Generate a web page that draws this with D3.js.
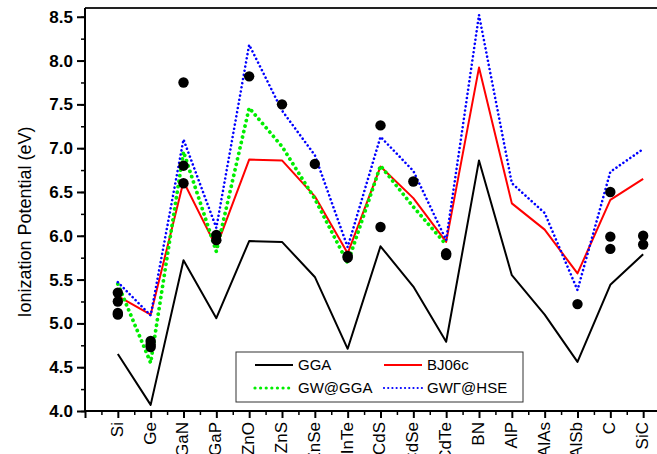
<!DOCTYPE html>
<html>
<head>
<meta charset="utf-8">
<script src="https://cdn.jsdelivr.net/npm/d3@7"></script>
<style>
  body { margin: 0; background: #fff; }
  svg { display: block; font-family: "Liberation Sans", Arial, sans-serif; }
</style>
</head>
<body>
<svg id="vis" width="657" height="454"></svg>
<script>
const materials = ['Si', 'Ge', 'GaN', 'GaP', 'ZnO', 'ZnS', 'ZnSe', 'InTe', 'CdS', 'CdSe', 'CdTe', 'BN', 'AlP', 'AlAs', 'AlSb', 'C', 'SiC']

const gga = [4.65, 4.07, 5.72, 5.06, 5.94, 5.93, 5.53, 4.71, 5.88, 5.42, 4.79, 6.86, 5.55, 5.10, 4.56, 5.44, 5.79]
const bj06c = [5.31, 5.10, 6.62, 5.87, 6.87, 6.86, 6.45, 5.80, 6.79, 6.43, 5.93, 7.92, 6.37, 6.07, 5.57, 6.41, 6.65]
// GW@GGA only goes up to CdTe
const gwGga = [5.45, 4.55, 6.96, 5.82, 7.46, 7.02, 6.42, 5.69, 6.80, 6.33, 5.90]
const gwgHse = [5.47, 5.09, 7.10, 6.09, 8.18, 7.43, 6.92, 5.87, 7.13, 6.74, 5.95, 8.52, 6.60, 6.26, 5.38, 6.73, 6.99]

// experimental values, [material, IP]
const expt = [
  ['Si', 5.35], ['Si', 5.25], ['Si', 5.12], ['Si', 5.10],
  ['Ge', 4.80], ['Ge', 4.76], ['Ge', 4.73],
  ['GaN', 7.75], ['GaN', 6.80], ['GaN', 6.60],
  ['GaP', 6.01], ['GaP', 5.95],
  ['ZnO', 7.82], ['ZnS', 7.50], ['ZnSe', 6.82],
  ['InTe', 5.77], ['InTe', 5.75],
  ['CdS', 7.26], ['CdS', 6.10], ['CdSe', 6.62],
  ['CdTe', 5.80], ['CdTe', 5.78],
  ['AlSb', 5.22],
  ['C', 6.50], ['C', 5.99], ['C', 5.85],
  ['SiC', 6.00], ['SiC', 5.90]
]

const yTicks = [4.0, 4.5, 5.0, 5.5, 6.0, 6.5, 7.0, 7.5, 8.0, 8.5]

const series = [
  { name: 'GGA', values: gga, color: '#000', width: 2, dash: null },
  { name: 'BJ06c', values: bj06c, color: '#f00', width: 2, dash: null },
  { name: 'GW@GGA', values: gwGga, color: '#0e0', width: 3.8, dash: '0.01 5.6' },
  { name: 'GWΓ@HSE', values: gwgHse, color: '#00f', width: 2.6, dash: '0.01 4.2' }
]

const svg = d3.select('#vis')
const plotLeft = 85, plotTop = 8, plotBottom = 411

const x = d3.scaleLinear().domain([-1, 17]).range([plotLeft, 676])
const y = d3.scaleLinear().domain([4, 8.6]).range([plotBottom, plotTop])

// frame
svg.append('line')
  .attr('x1', plotLeft).attr('x2', 657).attr('y1', plotTop).attr('y2', plotTop)
  .attr('stroke', '#222').attr('stroke-width', 2)

// y axis
const yMinor = d3.range(4, 8.6, 0.25)
svg.append('g')
  .attr('transform', `translate(${plotLeft},0)`)
  .call(d3.axisLeft(y).tickValues(yMinor).tickSize(4).tickFormat(''))
  .call(g => g.select('.domain').remove())
  .call(g => g.selectAll('line').attr('stroke-width', 1.5))
svg.append('g')
  .attr('transform', `translate(${plotLeft},0)`)
  .call(d3.axisLeft(y).tickValues(yTicks).tickSize(8).tickPadding(4).tickFormat(d3.format('.1f')))
  .call(g => g.select('.domain').attr('stroke-width', 2).attr('d', `M0,${plotBottom}V${plotTop}`))
  .call(g => g.selectAll('line').attr('stroke-width', 2))
  .call(g => g.selectAll('text')
    .attr('font-size', 17)
    .attr('font-weight', 'bold')
    .attr('fill', '#000')
    .attr('font-family', '"Liberation Sans", Arial, sans-serif'))

// x axis
svg.append('g')
  .attr('transform', `translate(0,${plotBottom})`)
  .call(d3.axisBottom(x).tickValues(d3.range(-0.5, 17, 1)).tickSize(4).tickFormat(''))
  .call(g => g.select('.domain').remove())
  .call(g => g.selectAll('line').attr('stroke-width', 1.5))
svg.append('g')
  .attr('transform', `translate(0,${plotBottom})`)
  .call(d3.axisBottom(x).tickValues(d3.range(-1, 17)).tickSize(7)
    .tickFormat(i => i >= 0 ? materials[i] : ''))
  .call(g => g.select('.domain').attr('stroke-width', 2).attr('d', `M${plotLeft},0H676`))
  .call(g => g.selectAll('line').attr('stroke-width', 2))
  .call(g => g.selectAll('text')
    .attr('font-size', 17)
    .attr('fill', '#000')
    .attr('font-family', '"Liberation Sans", Arial, sans-serif')
    .attr('text-anchor', 'end')
    .attr('dy', null)
    .attr('transform', 'rotate(-90)')
    .attr('x', -11)
    .attr('y', 0)
    .attr('dominant-baseline', 'middle'))

// y label
svg.append('text')
  .attr('transform', 'translate(31,222) rotate(-90)')
  .attr('text-anchor', 'middle')
  .attr('font-size', 18)
  .text('Ionization Potential (eV)')

// lines
const line = d3.line()
  .x((d, i) => x(i))
  .y(d => y(d))

svg.append('g')
  .selectAll('path')
  .data(series)
  .enter()
  .append('path')
  .attr('d', s => line(s.values))
  .attr('fill', 'none')
  .attr('stroke', s => s.color)
  .attr('stroke-width', s => s.width)
  .attr('stroke-dasharray', s => s.dash)
  .attr('stroke-linecap', s => s.dash ? 'round' : 'butt')
  .attr('stroke-linejoin', 'round')

// experiment dots
svg.append('g')
  .selectAll('circle')
  .data(expt)
  .enter()
  .append('circle')
  .attr('cx', d => x(materials.indexOf(d[0])))
  .attr('cy', d => y(d[1]))
  .attr('r', 5.2)
  .attr('fill', '#000')

// legend
const legend = svg.append('g').attr('transform', 'translate(236,352)')
legend.append('rect')
  .attr('width', 287).attr('height', 50)
  .attr('fill', '#fff').attr('stroke', '#333').attr('stroke-width', 1)
const cols = [19, 148]
const rows = [13, 36]
const items = legend.selectAll('g.item')
  .data(series)
  .enter()
  .append('g')
  .attr('class', 'item')
  .attr('transform', (s, i) => `translate(${cols[i % 2]},${rows[Math.floor(i / 2)]})`)
items.append('line')
  .attr('x1', 0).attr('x2', 38)
  .attr('stroke', s => s.color)
  .attr('stroke-width', s => s.dash ? s.width * 0.85 : s.width)
  .attr('stroke-dasharray', s => s.dash)
  .attr('stroke-linecap', s => s.dash ? 'round' : 'butt')
items.append('text')
  .attr('x', 43)
  .attr('dy', '0.36em')
  .attr('font-size', 15)
  .text(s => s.name)
</script>
</body>
</html>
